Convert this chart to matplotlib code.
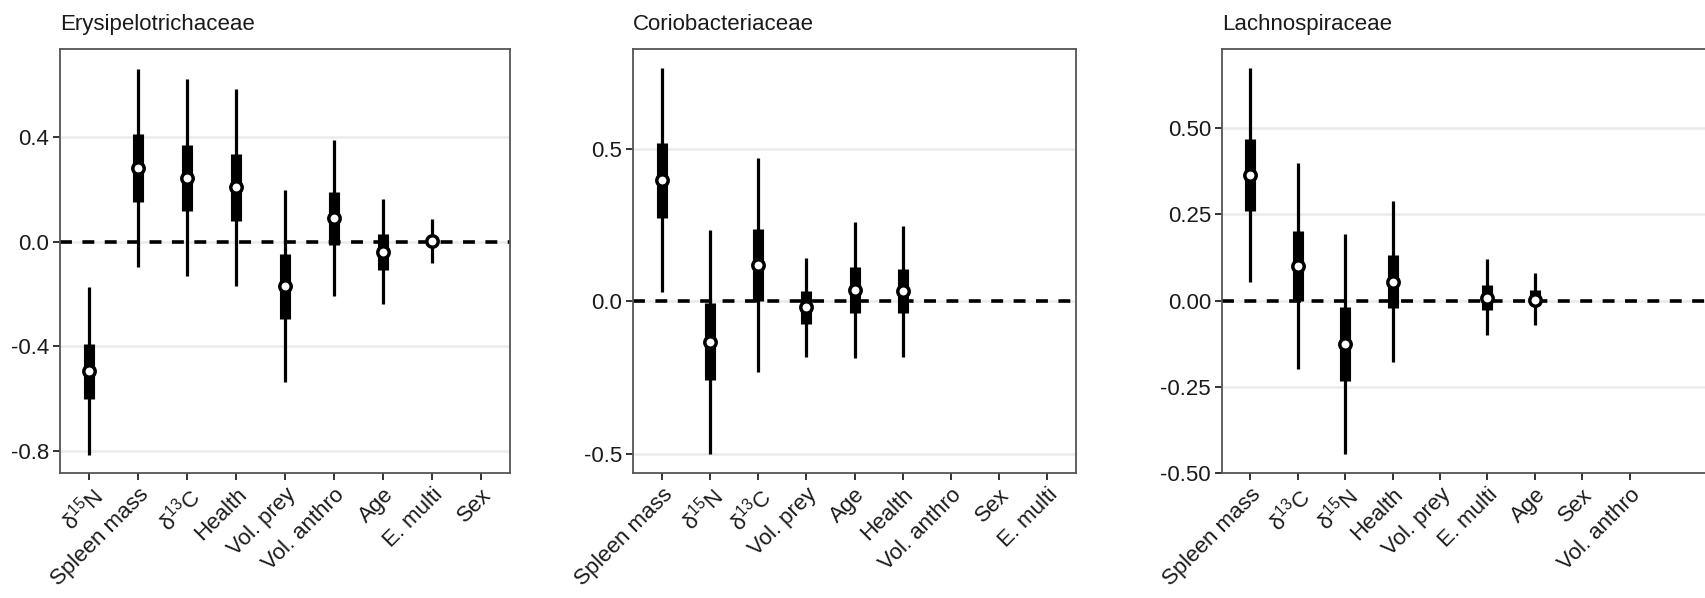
import numpy as np
import matplotlib
matplotlib.use("Agg")
import matplotlib.pyplot as plt
from matplotlib.ticker import FormatStrFormatter

plt.rcParams["font.family"] = ["Liberation Sans", "DejaVu Sans"]
plt.rcParams["axes.unicode_minus"] = False
plt.rcParams["mathtext.fontset"] = "custom"
plt.rcParams["mathtext.rm"] = "Liberation Sans"

nan = np.nan
d15N = r"$\mathregular{δ^{15}N}$"
d13C = r"$\mathregular{δ^{13}C}$"

# Erysipelotrichaceae
labels1 = [d15N, "Spleen mass", d13C, "Health", "Vol. prey", "Vol. anthro", "Age", "E. multi", "Sex"]
est1 = [-0.496, 0.283, 0.245, 0.207, -0.171, 0.089, -0.040, 0.004, nan]
in_lo1 = [-0.600, 0.153, 0.116, 0.080, -0.294, -0.012, -0.107, -0.010, nan]
in_hi1 = [-0.390, 0.410, 0.371, 0.333, -0.047, 0.190, 0.030, 0.018, nan]
out_lo1 = [-0.817, -0.098, -0.133, -0.169, -0.537, -0.207, -0.240, -0.080, nan]
out_hi1 = [-0.173, 0.661, 0.623, 0.584, 0.196, 0.387, 0.163, 0.087, nan]

# Coriobacteriaceae
labels2 = ["Spleen mass", d15N, d13C, "Vol. prey", "Age", "Health", "Vol. anthro", "Sex", "E. multi"]
est2 = [0.398, -0.134, 0.120, -0.019, 0.038, 0.034, nan, nan, nan]
in_lo2 = [0.272, -0.257, 0.000, -0.075, -0.039, -0.039, nan, nan, nan]
in_hi2 = [0.520, -0.005, 0.238, 0.034, 0.112, 0.105, nan, nan, nan]
out_lo2 = [0.030, -0.499, -0.232, -0.183, -0.184, -0.181, nan, nan, nan]
out_hi2 = [0.764, 0.234, 0.471, 0.143, 0.259, 0.247, nan, nan, nan]

# Lachnospiraceae
labels3 = ["Spleen mass", d13C, d15N, "Health", "Vol. prey", "E. multi", "Age", "Sex", "Vol. anthro"]
est3 = [0.365, 0.101, -0.126, 0.055, nan, 0.009, 0.003, nan, nan]
in_lo3 = [0.261, 0.000, -0.232, -0.022, nan, -0.027, -0.014, nan, nan]
in_hi3 = [0.468, 0.202, -0.019, 0.133, nan, 0.046, 0.031, nan, nan]
out_lo3 = [0.055, -0.199, -0.444, -0.178, nan, -0.101, -0.072, nan, nan]
out_hi3 = [0.674, 0.399, 0.193, 0.289, nan, 0.121, 0.081, nan, nan]

W, H = 1705, 598
fig = plt.figure(figsize=(W / 100, H / 100), dpi=100)


def panel(left, right, top, bottom, xmax, ylim, yticks, fmt, title,
          labels, est, in_lo, in_hi, out_lo, out_hi):
    ax = fig.add_axes([left / W, 1 - bottom / H, (right - left) / W, (bottom - top) / H])
    x = np.arange(1, len(labels) + 1)
    ax.axhline(0, color="black", lw=2.6, linestyle=(0, (3.3, 2.9)), zorder=2)
    ax.vlines(x, out_lo, out_hi, color="black", lw=2.3, zorder=3)
    ax.vlines(x, in_lo, in_hi, color="black", lw=8.0, zorder=3,
              capstyle="butt")
    ax.plot(x, est, "o", ms=8.2, mfc="white", mec="black", mew=2.5,
            zorder=4, linestyle="none")
    ax.set_xlim(0.4, xmax)
    ax.set_ylim(*ylim)
    ax.set_yticks(yticks)
    ax.yaxis.set_major_formatter(FormatStrFormatter(fmt))
    ax.set_xticks(x)
    ax.set_xticklabels(labels, rotation=45, ha="right", va="top",
                       rotation_mode="anchor")
    ax.grid(axis="y", color="#ebebeb", lw=1.8, zorder=0)
    ax.set_axisbelow(True)
    ax.tick_params(axis="both", length=5, width=1.4, color="#333333",
                   labelsize=16, labelcolor="#1a1a1a", pad=3)
    for s in ax.spines.values():
        s.set_color("#555555")
        s.set_linewidth(1.3)
    ax.set_title(title, loc="left", fontsize=16, pad=14, color="#1a1a1a")
    return ax


panel(60, 510, 49, 473, 9.6, (-0.884, 0.736), [-0.8, -0.4, 0.0, 0.4], "%.1f",
      "Erysipelotrichaceae", labels1, est1, in_lo1, in_hi1, out_lo1, out_hi1)
panel(633, 1076, 49, 473, 9.6, (-0.562, 0.827), [-0.5, 0.0, 0.5], "%.1f",
      "Coriobacteriaceae", labels2, est2, in_lo2, in_hi2, out_lo2, out_hi2)
panel(1222, 1730, 49, 473, 0.4 + (1730 - 1222) / 47.4, (-0.50, 0.73),
      [-0.5, -0.25, 0.0, 0.25, 0.5], "%.2f",
      "Lachnospiraceae", labels3, est3, in_lo3, in_hi3, out_lo3, out_hi3)

fig.savefig("out.png", dpi=100, facecolor="white")
